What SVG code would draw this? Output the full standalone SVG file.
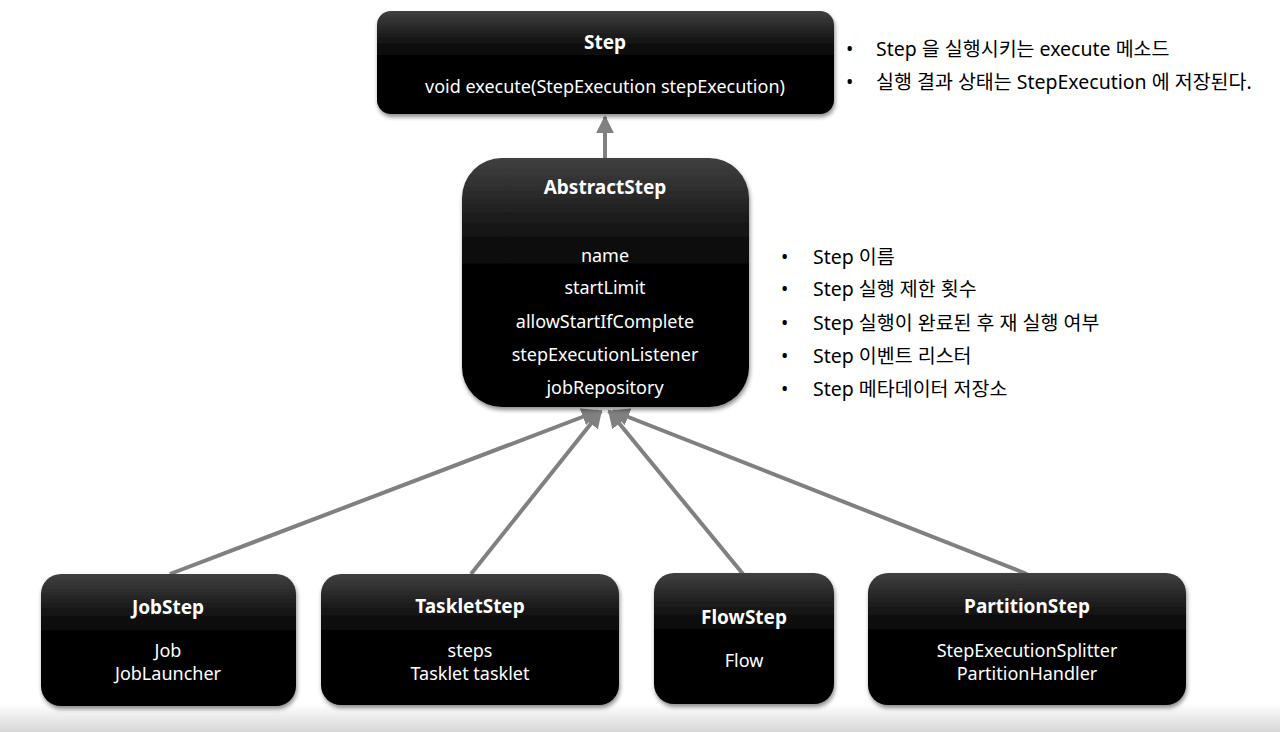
<svg xmlns="http://www.w3.org/2000/svg" width="1280" height="732" viewBox="0 0 1280 732">
<defs>
<linearGradient id="boxg" x1="0" y1="0" x2="0" y2="1">
<stop offset="0" stop-color="#404040"/>
<stop offset="0.15" stop-color="#2a2a2a"/>
<stop offset="0.3" stop-color="#131313"/>
<stop offset="0.45" stop-color="#040404"/>
<stop offset="0.55" stop-color="#000"/>
<stop offset="1" stop-color="#000"/>
</linearGradient>
<linearGradient id="floor" x1="0" y1="0" x2="0" y2="1">
<stop offset="0" stop-color="#ffffff"/>
<stop offset="1" stop-color="#d6d6d6"/>
</linearGradient>
<filter id="sh" x="-10%" y="-10%" width="120%" height="130%">
<feDropShadow dx="1" dy="3" stdDeviation="2" flood-color="#000" flood-opacity="0.45"/>
</filter>
<marker id="ah" viewBox="0 0 10 10" refX="9" refY="5" markerWidth="4.5" markerHeight="4.5" orient="auto" markerUnits="strokeWidth">
<path d="M0,0 L10,5 L0,10 z" fill="#808080"/>
</marker>
</defs>
<style>
.box{fill:url(#boxg);filter:url(#sh)}
.t{font-family:"Noto Sans","Noto Sans CJK KR",sans-serif;fill:#fff;text-anchor:middle;font-size:18px}
.tb{font-family:"Noto Sans","Noto Sans CJK KR",sans-serif;fill:#fff;text-anchor:middle;font-size:19px;font-weight:bold}
.n{font-family:"Noto Sans","Noto Sans CJK KR",sans-serif;fill:#000;font-size:19.5px}
.c{stroke:#808080;stroke-width:4;fill:none;marker-end:url(#ah)}
</style>
<rect x="0" y="0" width="1280" height="732" fill="#fff"/>
<rect x="0" y="704" width="1280" height="28" fill="url(#floor)"/>

<g id="connectors">
<line class="c" x1="605" y1="158" x2="605" y2="117"/>
<line class="c" x1="170" y1="574" x2="598" y2="411"/>
<line class="c" x1="471" y1="574" x2="601" y2="411"/>
<line class="c" x1="743" y1="574" x2="609" y2="411"/>
<line class="c" x1="1027" y1="574" x2="613" y2="411"/>
</g>

<g id="step">
<rect class="box" x="377" y="11" width="457" height="103" rx="14"/>
<text class="tb" x="605" y="49">Step</text>
<text class="t" x="605" y="93">void execute(StepExecution stepExecution)</text>
</g>

<g id="abstractStep">
<rect class="box" x="462" y="158" width="287" height="249" rx="40"/>
<text class="tb" x="605" y="194">AbstractStep</text>
<text class="t" x="605" y="262">name</text>
<text class="t" x="605" y="294">startLimit</text>
<text class="t" x="605" y="328">allowStartIfComplete</text>
<text class="t" x="605" y="361">stepExecutionListener</text>
<text class="t" x="605" y="394">jobRepository</text>
</g>

<g id="jobStep">
<rect class="box" x="41" y="574" width="255" height="132" rx="20"/>
<text class="tb" x="168" y="614">JobStep</text>
<text class="t" x="168" y="657">Job</text>
<text class="t" x="168" y="680">JobLauncher</text>
</g>

<g id="taskletStep">
<rect class="box" x="321" y="574" width="298" height="131" rx="20"/>
<text class="tb" x="470" y="613">TaskletStep</text>
<text class="t" x="470" y="657">steps</text>
<text class="t" x="470" y="680">Tasklet tasklet</text>
</g>

<g id="flowStep">
<rect class="box" x="654" y="573" width="180" height="131" rx="20"/>
<text class="tb" x="744" y="624">FlowStep</text>
<text class="t" x="744" y="667">Flow</text>
</g>

<g id="partitionStep">
<rect class="box" x="868" y="573" width="318" height="132" rx="20"/>
<text class="tb" x="1027" y="613">PartitionStep</text>
<text class="t" x="1027" y="657">StepExecutionSplitter</text>
<text class="t" x="1027" y="680">PartitionHandler</text>
</g>

<g id="stepNotes">
<text class="n" x="846" y="56">•</text>
<text class="n" x="876" y="56">Step 을 실행시키는 execute 메소드</text>
<text class="n" x="846" y="89">•</text>
<text class="n" x="876" y="89">실행 결과 상태는 StepExecution 에 저장된다.</text>
</g>

<g id="abstractNotes">
<text class="n" x="781" y="264">•</text>
<text class="n" x="813" y="264">Step 이름</text>
<text class="n" x="781" y="296">•</text>
<text class="n" x="813" y="296">Step 실행 제한 횟수</text>
<text class="n" x="781" y="330">•</text>
<text class="n" x="813" y="330">Step 실행이 완료된 후 재 실행 여부</text>
<text class="n" x="781" y="363">•</text>
<text class="n" x="813" y="363">Step 이벤트 리스터</text>
<text class="n" x="781" y="396">•</text>
<text class="n" x="813" y="396">Step 메타데이터 저장소</text>
</g>
</svg>
